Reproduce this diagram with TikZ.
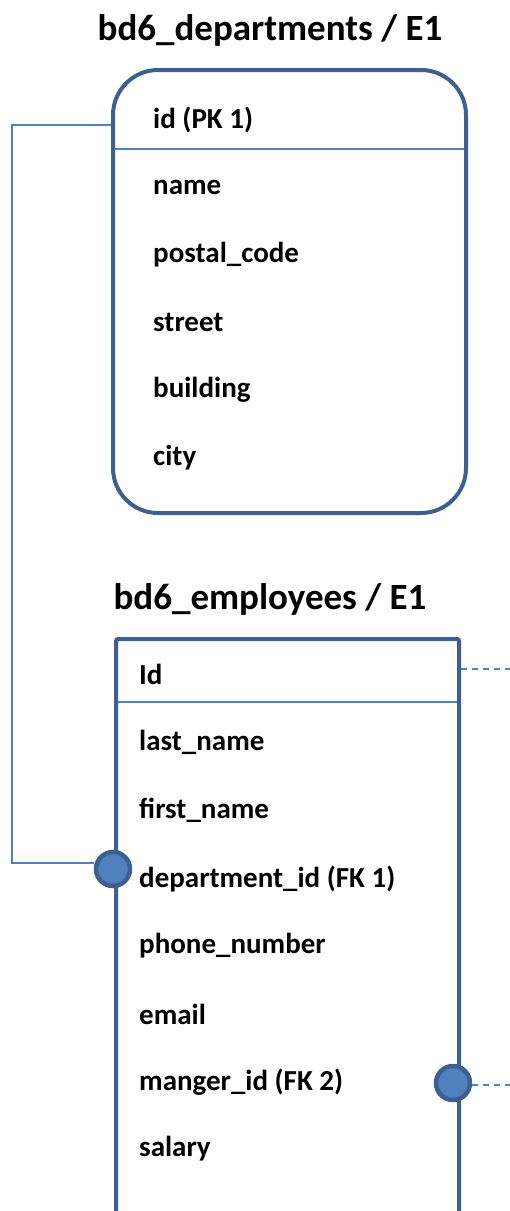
\documentclass[tikz,border=0pt]{standalone}
\usepackage{fontspec}
\setmainfont{Carlito}
\usetikzlibrary{positioning}
\definecolor{boxblue}{RGB}{61,96,144}
\definecolor{lineblue}{RGB}{79,129,189}
\tikzset{
  x=1pt,y=-1pt,
  title/.style={font=\bfseries\fontsize{37}{39}\selectfont, anchor=center},
  field/.style={font=\bfseries\fontsize{29}{31}\selectfont, anchor=west, inner sep=0pt},
  frame/.style={draw=boxblue, line width=4pt},
  divider/.style={draw=lineblue, line width=1.5pt},
  conn/.style={draw=lineblue, line width=1.3pt},
  dconn/.style={draw=lineblue, line width=1.3pt, dash pattern=on 6pt off 5pt},
  fkdot/.style={circle, draw=boxblue, fill=lineblue, line width=4.5pt, minimum size=34pt, inner sep=0pt}
}
\begin{document}
\begin{tikzpicture}
\useasboundingbox (0,0) rectangle (510,1211);
\clip (0,0) rectangle (510,1211);
% departments
\node[title] (t1) at (270,30) {bd6\_departments / E1};
\draw[frame, rounded corners=45pt] (113,70) rectangle (466,513);
\coordinate (d1l) at (115,149);
\coordinate (d1r) at (464,149);
\draw[divider] (d1l) -- (d1r);
\node[field] (f11) at (153,120) {id (PK 1)};
\node[field] (f12) at (153,187) {name};
\node[field] (f13) at (153,255) {postal\_code};
\node[field] (f14) at (153,322) {street};
\node[field] (f15) at (153,390) {building};
\node[field] (f16) at (153,458) {city};
% employees
\node[title] (t2) at (270,599) {bd6\_employees / E1};
\draw[frame, rounded corners=2pt] (116,1240) -- (116,639) -- (459,639) -- (459,1240);
\coordinate (d2l) at (118,702);
\coordinate (d2r) at (457,702);
\draw[divider] (d2l) -- (d2r);
\node[field] (f21) at (139,674) {Id};
\node[field] (f22) at (139,742) {last\_name};
\node[field] (f23) at (139,810) {first\_name};
\node[field] (f24) at (139,879) {department\_id (FK 1)};
\node[field] (f25) at (139,946) {phone\_number};
\node[field] (f26) at (139,1014) {email};
\node[field] (f27) at (139,1082) {manger\_id (FK 2)};
\node[field] (f28) at (139,1149) {salary};
% connectors
\coordinate (pk) at (111,125);
\coordinate (c1) at (12,125);
\coordinate (c2) at (12,863);
\node[fkdot] (fk1) at (113,869) {};
\draw[conn] (pk) -- (c1) -- (c2) -- (c2 -| fk1.west);
\coordinate (idr) at (461,669);
\coordinate (ide) at (510,669);
\draw[dconn] (idr) -- (ide);
\node[fkdot] (fk2) at (453,1083) {};
\coordinate (fke) at (510,1085);
\draw[dconn] (fk2.east |- fke) -- (fke);
\end{tikzpicture}
\end{document}
